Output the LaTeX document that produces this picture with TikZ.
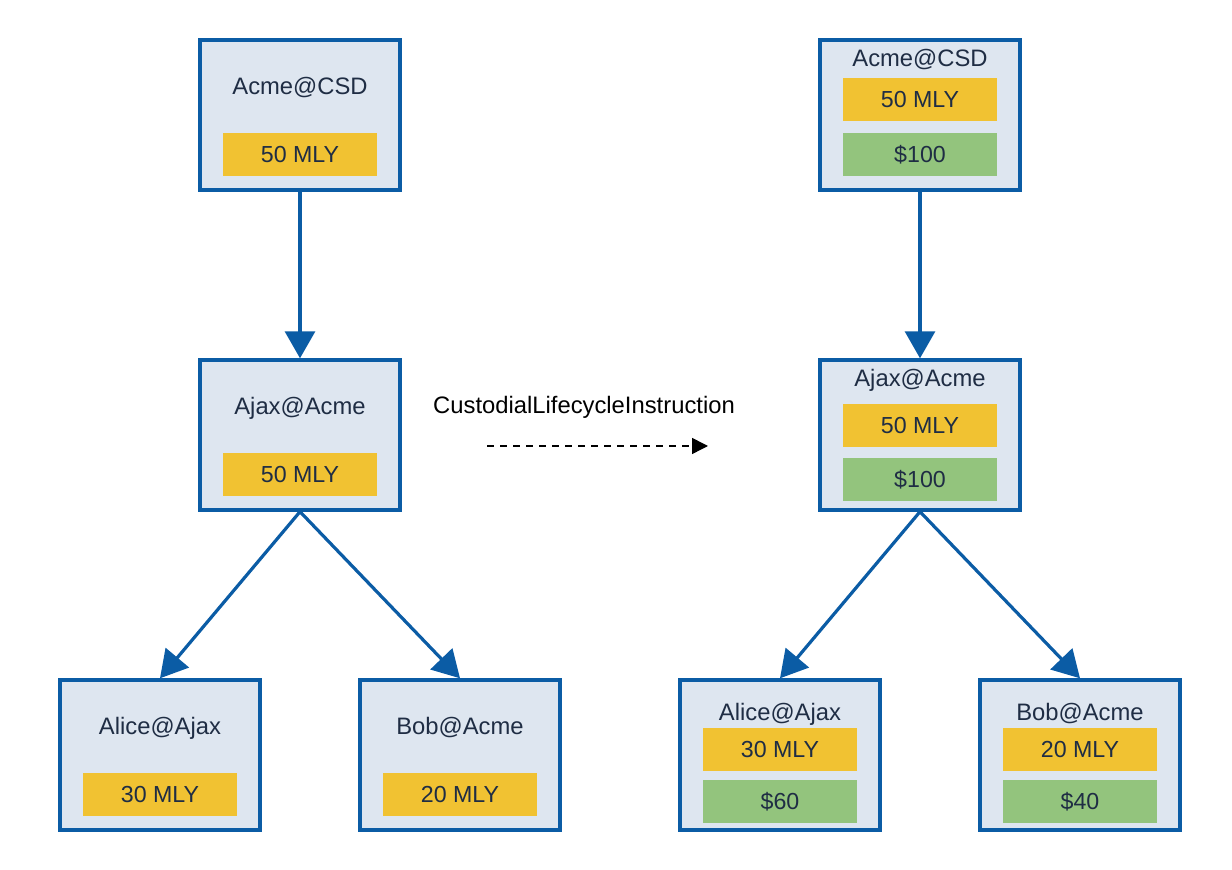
\documentclass[tikz,border=0pt]{standalone}
\usepackage{fontspec}
\setmainfont{Liberation Sans}
\usetikzlibrary{arrows.meta}
\definecolor{boxblue}{HTML}{0B5CA5}
\definecolor{boxfill}{HTML}{DEE6F0}
\definecolor{mlyyellow}{HTML}{F1C232}
\definecolor{usdgreen}{HTML}{93C47D}
\definecolor{txt}{HTML}{1F2D44}

\tikzset{
  holder/.style={draw=boxblue,fill=boxfill,line width=1.7pt,minimum width=100pt,minimum height=75pt,inner sep=0pt},
  holdername/.style={text=txt,font=\fontsize{11.9}{14}\selectfont,inner sep=0pt},
  mly/.style={fill=mlyyellow,text=txt,minimum width=77pt,minimum height=21.5pt,inner sep=0pt,font=\fontsize{11.6}{14}\selectfont},
  usd/.style={mly,fill=usdgreen},
  link/.style={draw=boxblue,line width=1.6pt,-{Triangle[length=13.5pt,width=15pt]}}
}

\begin{document}
\begin{tikzpicture}[x=0.5pt,y=-0.5pt]
\useasboundingbox (0,0) rectangle (1232,870);
% before
\node[holder] (csdL) at (300,115) {};
\node[holdername] (csdLname) at (300,88) {Acme@CSD};
\node[mly] (csdLmly) at (300,154.5) {50 MLY};
\node[holder] (ajaxL) at (300,435) {};
\node[holdername] (ajaxLname) at (300,408) {Ajax@Acme};
\node[mly] (ajaxLmly) at (300,474.5) {50 MLY};
\node[holder] (aliceL) at (160,755) {};
\node[holdername] (aliceLname) at (160,728) {Alice@Ajax};
\node[mly] (aliceLmly) at (160,794.5) {30 MLY};
\node[holder] (bobL) at (460,755) {};
\node[holdername] (bobLname) at (460,728) {Bob@Acme};
\node[mly] (bobLmly) at (460,794.5) {20 MLY};
\draw[link] (csdL.south) -- (ajaxL.north);
\draw[link] (ajaxL.south) -- (aliceL.north);
\draw[link] (ajaxL.south) -- (bobL.north);
% instruction
\coordinate (from) at (487,446);
\coordinate (to) at (708,446);
\draw[dash pattern=on 3.5pt off 3pt,line width=0.75pt,-{Triangle[length=8pt,width=8pt]}] (from) -- (to);
\node[font=\fontsize{11.9}{14}\selectfont,inner sep=0pt] (instr) at (584,407) {CustodialLifecycleInstruction};
% after
\node[holder] (csdR) at (920,115) {};
\node[holdername] (csdRname) at (920,60) {Acme@CSD};
\node[mly] (csdRmly) at (920,99.5) {50 MLY};
\node[usd] (csdRusd) at (920,155) {\$100};
\node[holder] (ajaxR) at (920,435) {};
\node[holdername] (ajaxRname) at (920,380) {Ajax@Acme};
\node[mly] (ajaxRmly) at (920,425.5) {50 MLY};
\node[usd] (ajaxRusd) at (920,480) {\$100};
\node[holder] (aliceR) at (780,755) {};
\node[holdername] (aliceRname) at (780,714) {Alice@Ajax};
\node[mly] (aliceRmly) at (780,750) {30 MLY};
\node[usd] (aliceRusd) at (780,802) {\$60};
\node[holder] (bobR) at (1080,755) {};
\node[holdername] (bobRname) at (1080,714) {Bob@Acme};
\node[mly] (bobRmly) at (1080,750) {20 MLY};
\node[usd] (bobRusd) at (1080,802) {\$40};
\draw[link] (csdR.south) -- (ajaxR.north);
\draw[link] (ajaxR.south) -- (aliceR.north);
\draw[link] (ajaxR.south) -- (bobR.north);
\end{tikzpicture}
\end{document}
